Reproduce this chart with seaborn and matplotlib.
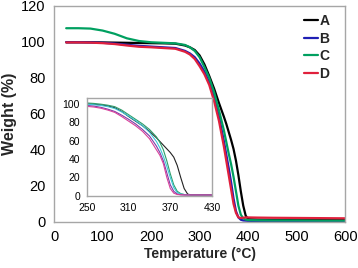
import numpy as np
import pandas as pd
import matplotlib
matplotlib.use("Agg")
import matplotlib.pyplot as plt
import seaborn as sns

# ---- main chart data ----
temp_main = [25, 50, 75, 100, 125, 150, 175, 200, 225, 250, 270, 280, 290, 300, 310,
             320, 330, 340, 350, 355, 360, 365, 370, 375, 380, 385, 390, 395,
             400, 420, 450, 500, 550, 600]
A = [99.8, 99.8, 99.8, 99.7, 99.6, 99.5, 99.4, 99.3, 99.2, 99.0, 98.0, 97.0, 95.5, 92.5, 87.5,
     81, 74, 66, 58.5, 54.5, 50, 45.5, 40.5, 34, 26, 17, 9, 3.5,
     1.5, 1.3, 1.2, 1.1, 1.0, 1.0]
B = [99.8, 99.8, 99.7, 99.5, 99.1, 98.4, 97.8, 97.4, 97.0, 96.6, 95.0, 93.6, 91.5, 88.0, 83.5,
     77.5, 69, 58.5, 45, 37.5, 30, 22, 13, 6, 2.5, 1.2, 0.8, 0.7,
     0.6, 0.5, 0.5, 0.4, 0.3, 0.3]
C = [107.6, 107.6, 107.4, 106.3, 104.5, 102.0, 100.5, 99.8, 99.5, 99.2, 98.3, 97.0, 95.0, 91.5, 86,
     80, 72, 62, 51, 44.5, 38, 32, 25, 17, 9, 4, 2, 1.3,
     1.0, 0.9, 0.8, 0.8, 0.7, 0.7]
D = [99.7, 99.7, 99.6, 99.3, 98.8, 98.0, 97.3, 97.0, 96.6, 96.2, 94.5, 93.0, 90.5, 86.5, 82,
     76, 67, 56, 42, 34, 26, 18, 10, 5, 2.5, 2.2, 2.3, 2.5,
     2.5, 2.4, 2.3, 2.2, 2.1, 2.0]
series_names = ["A", "B", "C", "D"]
series_colors = ["#000000", "#1F1FB4", "#00A060", "#E0203C"]

# ---- inset data ----
temp_inset = [250, 260, 270, 280, 290, 300, 310, 320, 330, 340, 350, 355, 360, 365,
              370, 375, 380, 385, 390, 395, 400, 410, 420, 430]
in_black = [99.8, 99.3, 98.6, 97.5, 95.5, 91.5, 86, 81, 76, 70, 63, 59, 55, 51,
            47, 42, 33, 20, 8, 2, 1, 1, 1, 1]
in_green = [100.7, 100.2, 99.4, 98.3, 96.7, 93, 88, 83, 78, 72, 64, 58, 50, 38,
            24, 12, 5, 2.5, 1.5, 1.2, 1, 1, 1, 1]
in_cyan = [99.3, 98.8, 98.0, 96.7, 94.7, 91, 86.5, 81.5, 76, 69, 59, 52, 43, 32,
           20, 9, 3.5, 2, 1.5, 1.2, 1, 1, 1, 1]
in_purple = [98, 97.3, 96, 94, 91.5, 87.5, 83, 78, 72, 65, 54, 47, 38, 25,
             12, 5, 2, 1.2, 1, 1, 1, 1, 1, 1]
in_magenta = [97, 96.3, 95, 93, 90.5, 86, 81, 76, 70, 62, 50, 44, 35, 20,
              8, 3, 1.5, 1.2, 1, 1, 1, 1, 1, 1]
inset_names = ["i1", "i2", "i3", "i4", "i5"]
inset_colors = ["#222222", "#2E9E6A", "#3CC8D8", "#7A3FA8", "#D8409A"]

sns.set_style("white")
plt.rcParams["font.family"] = ["Liberation Sans", "DejaVu Sans"]

df_main = pd.DataFrame({
    "Temperature": temp_main * 4,
    "Weight": A + B + C + D,
    "Sample": sum([[n] * len(temp_main) for n in series_names], []),
})
df_in = pd.DataFrame({
    "Temperature": temp_inset * 5,
    "Weight": in_black + in_green + in_cyan + in_purple + in_magenta,
    "Sample": sum([[n] * len(temp_inset) for n in inset_names], []),
})

fig = plt.figure(figsize=(3.58, 2.68), dpi=100)
ax = fig.add_axes([0.151, 0.172, 0.813, 0.806])
sns.lineplot(data=df_main, x="Temperature", y="Weight", hue="Sample",
             palette=dict(zip(series_names, series_colors)), linewidth=1.6,
             ax=ax, legend=False)
ax.set_xlim(0, 600)
ax.set_ylim(0, 120)
ax.set_xticks(range(0, 601, 100))
ax.set_yticks(range(0, 121, 20))
spine_c = "#A6A6A6"
for s in ax.spines.values():
    s.set_color(spine_c)
    s.set_linewidth(1.0)
ax.tick_params(axis="both", which="both", direction="out", length=4, width=1,
               color=spine_c, labelsize=10.5, labelcolor="black", pad=2)
ax.tick_params(top=False, right=False)
ax.set_xlabel("Temperature (°C)", fontsize=10, fontweight="bold", labelpad=2)
ax.set_ylabel("Weight (%)", fontsize=11.5, fontweight="bold", labelpad=3)

handles = [plt.Line2D([0], [0], color=c, lw=1.6) for c in series_colors]
leg = ax.legend(handles, series_names, loc="upper right", frameon=False,
                handlelength=1.0, handletextpad=0.1, labelspacing=0.25,
                prop={"weight": "bold", "size": 10}, borderaxespad=0.2,
                bbox_to_anchor=(0.975, 1.0))

axin = fig.add_axes([0.243, 0.269, 0.349, 0.365])
sns.lineplot(data=df_in, x="Temperature", y="Weight", hue="Sample",
             palette=dict(zip(inset_names, inset_colors)), linewidth=0.8,
             ax=axin, legend=False)
axin.set_xlim(250, 430)
axin.set_ylim(0, 106)
axin.set_xticks([250, 310, 370, 430])
axin.set_yticks(range(0, 101, 20))
for s in axin.spines.values():
    s.set_color(spine_c)
    s.set_linewidth(1.0)
axin.tick_params(axis="both", direction="out", length=3, width=1, color=spine_c,
                 labelsize=7.5, labelcolor="black", pad=2)
axin.set_xlabel("")
axin.set_ylabel("")
axin.set_facecolor("white")

fig.savefig("out.png", dpi=100)
